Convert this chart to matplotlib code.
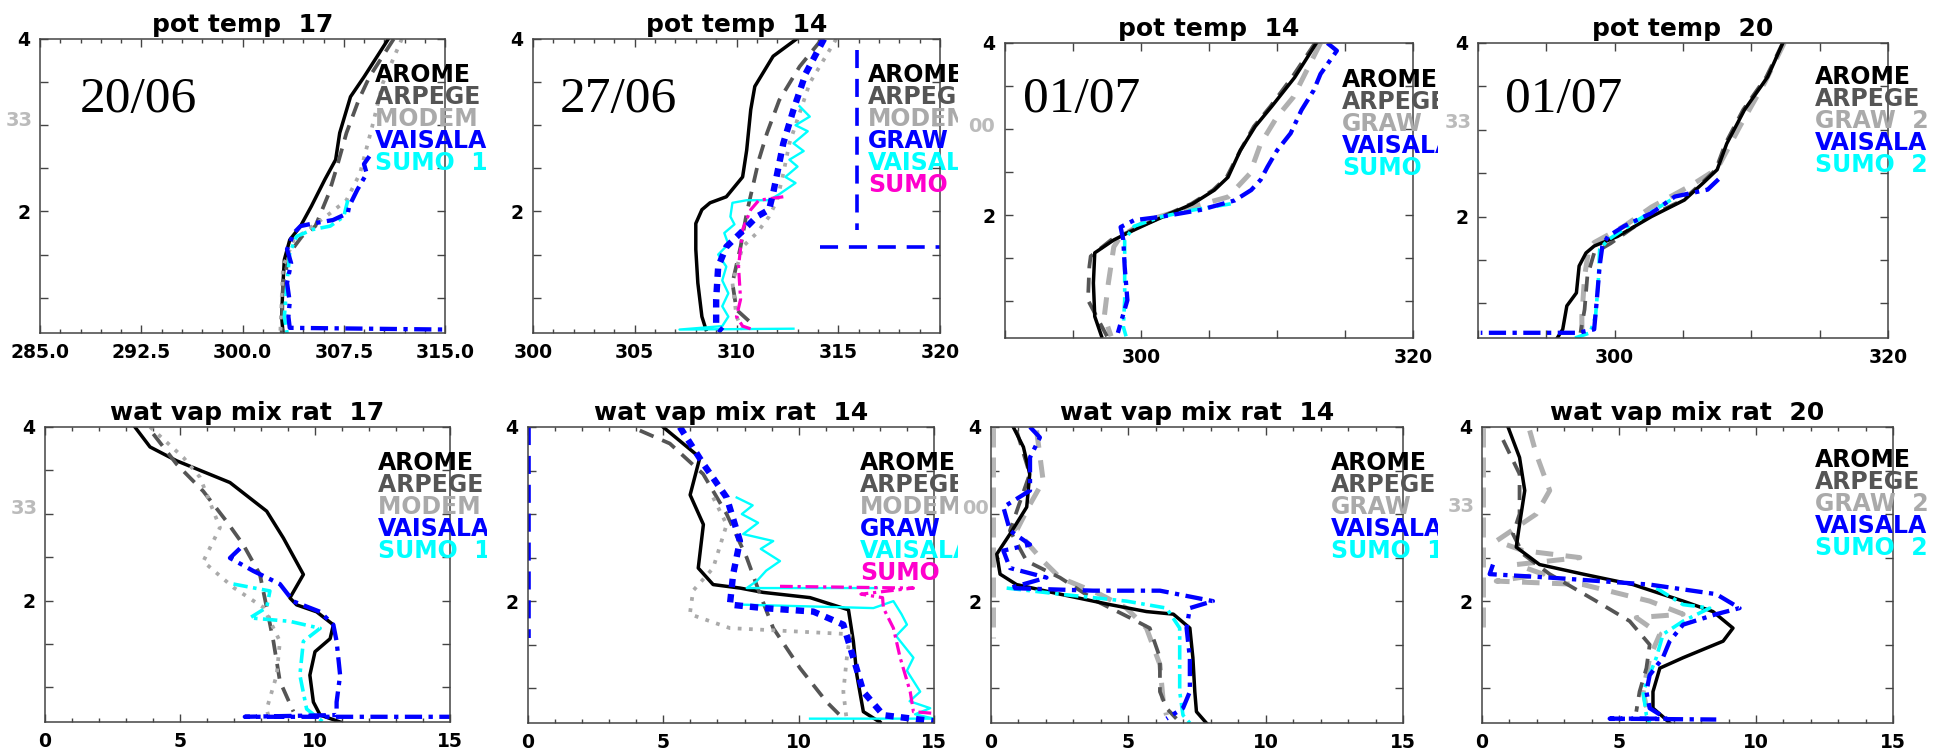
import numpy as np
import matplotlib
matplotlib.use("Agg")
import matplotlib.pyplot as plt
from matplotlib.ticker import FixedLocator, MultipleLocator

W, H = 1945, 751
nan = np.nan

# ---- profiles: (value, altitude km) ----
# row 1 : potential temperature (K)
pt17_arome = [(310.8, 4.0), (309.0, 3.56), (308.0, 3.33), (307.2, 2.91), (306.9, 2.6), (306.1, 2.37),
              (305.1, 2.06), (304.3, 1.83), (303.5, 1.67), (303.1, 1.44), (303.0, 1.17), (302.9, 0.78), (303.0, 0.59)]
pt17_arpege = [(311.2, 4.0), (309.4, 3.56), (308.6, 3.29), (307.7, 2.91), (307.0, 2.52), (306.4, 2.21),
               (305.4, 1.83), (304.4, 1.71), (303.5, 1.52), (303.0, 1.17), (302.9, 0.59)]
pt17_modem = [(311.8, 4.0), (310.4, 3.49), (309.6, 2.98), (308.7, 2.44), (307.7, 2.13), (306.5, 1.98),
              (305.2, 1.83), (303.8, 1.67), (303.0, 1.36), (302.8, 0.59)]
pt17_vaisala = [(309.4, 2.64), (309.0, 2.55), (309.2, 2.44), (308.5, 2.25), (307.9, 2.06), (307.8, 1.98),
                (306.7, 1.90), (305.2, 1.86), (304.3, 1.83), (303.8, 1.75), (303.3, 1.56), (303.6, 1.4),
                (303.3, 1.17), (303.5, 0.95), (303.4, 0.78), (303.5, 0.65), (315.0, 0.63)]
pt17_sumo = [(307.8, 2.13), (307.5, 1.94), (306.5, 1.83), (305.2, 1.79), (304.0, 1.71), (303.5, 1.52),
             (303.3, 1.17), (303.1, 0.78), (303.3, 0.59)]

pt14a_arome = [(312.95, 4.0), (311.8, 3.8), (310.9, 3.45), (310.7, 3.18), (310.5, 2.71), (310.3, 2.4),
               (309.5, 2.17), (308.7, 2.10), (308.3, 2.02), (308.0, 1.86), (308.0, 1.56), (308.1, 1.17),
               (308.3, 0.78), (308.5, 0.63)]
pt14a_arpege = [(314.2, 4.0), (313.1, 3.68), (312.1, 3.29), (311.5, 2.91), (311.1, 2.6), (310.8, 2.29),
                (310.5, 1.98), (310.2, 1.59), (309.8, 1.17), (310.0, 0.86), (310.7, 0.71), (310.8, 0.63)]
pt14a_modem = [(314.9, 4.0), (313.6, 3.49), (313.1, 3.14), (312.6, 2.79), (312.3, 2.44), (312.0, 2.13),
               (311.6, 1.94), (311.0, 1.75), (310.3, 1.59), (309.8, 1.17), (310.0, 0.78), (310.3, 0.63)]
pt14a_graw = [(314.3, 4.0), (313.4, 3.6), (312.8, 3.18), (312.3, 2.79), (312.0, 2.44), (311.8, 2.21),
              (311.6, 2.02), (311.0, 1.94), (310.2, 1.75), (309.5, 1.59), (309.1, 1.36), (309.0, 0.98),
              (309.0, 0.67), (309.3, 0.61)]
pt14a_graw_extra = [(315.9, 3.87), (315.9, 1.79), (nan, nan), (314.1, 1.59), (320.0, 1.59)]
pt14a_vaisala = [(313.1, 3.22), (313.6, 3.1), (312.9, 3.0), (313.5, 2.93), (312.8, 2.79), (313.3, 2.7),
                 (312.6, 2.6), (313.0, 2.52), (312.4, 2.4), (312.9, 2.33), (312.1, 2.2), (311.6, 2.13),
                 (310.5, 2.13), (309.8, 2.10), (309.7, 1.94), (309.9, 1.85), (309.4, 1.75), (309.6, 1.62),
                 (309.1, 1.5), (309.5, 1.36), (309.3, 1.2), (309.6, 1.05), (309.3, 0.9), (309.6, 0.78),
                 (309.3, 0.67), (307.2, 0.63), (312.8, 0.64)]
pt14a_sumo = [(312.3, 2.17), (311.1, 2.13), (310.7, 2.02), (310.3, 1.79), (310.1, 1.36), (310.2, 0.98),
              (310.0, 0.78), (310.3, 0.67), (310.8, 0.63)]

pt14b_arome = [(312.9, 4.0), (311.3, 3.6), (309.6, 3.26), (308.4, 3.03), (307.3, 2.75), (306.4, 2.44),
               (305.4, 2.29), (303.8, 2.13), (302.2, 2.02), (300.5, 1.9), (299.0, 1.79), (298.0, 1.71),
               (296.6, 1.56), (296.5, 1.21), (296.6, 0.82), (297.1, 0.59)]
pt14b_arpege = [(312.8, 4.0), (311.1, 3.6), (309.5, 3.26), (308.3, 3.03), (307.3, 2.75), (306.3, 2.44),
                (305.3, 2.29), (303.7, 2.13), (302.1, 2.02), (300.4, 1.9), (298.9, 1.79), (297.8, 1.71),
                (296.3, 1.52), (296.2, 1.4), (296.1, 1.01), (297.0, 0.74), (297.5, 0.59)]
pt14b_graw = [(313.2, 4.0), (311.2, 3.37), (310.0, 3.14), (308.8, 2.83), (308.0, 2.48), (306.4, 2.21),
              (303.9, 2.1), (300.5, 1.94), (298.5, 1.75), (298.0, 1.63), (297.6, 1.21), (297.3, 0.82),
              (297.8, 0.59)]
pt14b_vaisala = [(313.7, 4.0), (314.4, 3.91), (313.2, 3.64), (312.7, 3.45), (311.8, 3.22), (311.0, 2.95),
                 (310.0, 2.75), (309.3, 2.56), (308.8, 2.41), (308.1, 2.29), (306.9, 2.17), (304.4, 2.06),
                 (301.5, 1.98), (299.5, 1.94), (298.5, 1.86), (298.7, 1.71), (298.8, 1.40), (299.0, 1.01),
                 (298.5, 0.74), (298.3, 0.63)]
pt14b_sumo = [(306.6, 2.13), (303.9, 2.06), (301.5, 1.98), (299.5, 1.87), (298.8, 1.71), (298.8, 1.40),
              (298.8, 1.01), (298.7, 0.70), (298.9, 0.59)]

pt20_arome = [(312.3, 4.0), (311.2, 3.61), (309.5, 3.23), (308.2, 2.84), (307.5, 2.54), (306.5, 2.39),
              (305.1, 2.19), (302.7, 2.0), (300.2, 1.77), (298.5, 1.66), (297.9, 1.58), (297.4, 1.43),
              (297.2, 1.12), (296.5, 0.97), (296.2, 0.70), (295.8, 0.6)]
pt20_arpege = [(312.3, 4.0), (311.1, 3.61), (309.4, 3.23), (308.1, 2.84), (307.4, 2.54), (306.4, 2.39),
               (305.0, 2.19), (302.5, 2.0), (299.7, 1.69), (298.5, 1.58), (298.0, 1.31), (297.8, 0.93),
               (297.5, 0.66)]
pt20_graw = [(312.4, 4.0), (311.0, 3.55), (309.2, 3.05), (307.5, 2.55), (305.6, 2.36), (302.7, 2.11),
             (300.7, 1.89), (298.5, 1.7), (298.1, 1.62), (297.8, 1.31), (297.6, 0.85), (297.6, 0.62)]
pt20_vaisala = [(307.6, 2.43), (306.8, 2.31), (304.4, 2.23), (302.7, 2.04), (300.7, 1.89), (299.5, 1.77),
                (299.1, 1.66), (298.9, 1.43), (298.7, 1.05), (298.5, 0.70), (297.3, 0.66), (290.2, 0.66)]
pt20_sumo = [(304.1, 2.19), (301.7, 1.96), (299.5, 1.73), (298.9, 1.62), (298.8, 1.24), (298.6, 0.85),
             (298.2, 0.66), (297.1, 0.6)]

# row 2 : water vapour mixing ratio (g/kg)
wv17_arome = [(3.33, 4.0), (3.89, 3.77), (4.88, 3.61), (6.85, 3.36), (8.21, 3.03), (8.83, 2.72), (9.57, 2.30),
              (9.07, 2.03), (9.32, 1.95), (10.06, 1.87), (10.68, 1.72), (10.56, 1.56), (10.0, 1.41),
              (9.81, 1.14), (9.94, 0.83), (10.19, 0.68), (10.93, 0.60)]
wv17_arpege = [(4.01, 3.92), (4.88, 3.57), (5.86, 3.26), (6.73, 2.91), (7.35, 2.64), (7.96, 2.30),
               (8.21, 1.92), (8.46, 1.53), (8.7, 1.07), (9.2, 0.72)]
wv17_modem = [(3.89, 4.0), (5.12, 3.65), (5.74, 3.42), (6.48, 2.84), (5.86, 2.45), (6.98, 2.15), (8.09, 1.92),
              (8.7, 1.53), (8.58, 1.14), (8.21, 0.75), (8.33, 0.60)]
wv17_vaisala = [(7.22, 2.6), (6.85, 2.49), (7.72, 2.34), (8.7, 2.19), (9.2, 1.99), (10.19, 1.87),
                (10.68, 1.72), (10.8, 1.53), (10.93, 1.14), (10.8, 0.83), (10.8, 0.68), (7.4, 0.66), (15.0, 0.66)]
wv17_sumo = [(6.98, 2.19), (8.33, 2.11), (8.21, 1.92), (7.59, 1.80), (9.07, 1.76), (10.19, 1.68),
             (9.57, 1.53), (9.44, 1.14), (9.69, 0.75), (10.3, 0.60)]

wv14a_arome = [(4.99, 4.0), (6.35, 3.65), (5.99, 3.22), (6.48, 2.88), (6.29, 2.38), (6.84, 2.19), (7.83, 2.15),
               (8.69, 2.10), (10.42, 2.04), (11.84, 1.90), (12.02, 1.54), (12.15, 1.15), (12.39, 0.73),
               (13.0, 0.61)]
wv14a_arpege = [(4.13, 3.96), (5.24, 3.81), (6.47, 3.46), (7.34, 3.0), (8.08, 2.5), (8.57, 2.08),
                (9.06, 1.69), (10.05, 1.23), (11.04, 0.84), (11.65, 0.65)]
wv14a_modem = [(6.84, 3.19), (7.34, 2.88), (6.84, 2.38), (6.1, 2.12), (5.98, 1.85), (7.46, 1.69),
               (11.9, 1.62), (11.78, 1.35), (11.65, 0.96), (11.78, 0.62)]
wv14a_graw = [(5.61, 4.0), (6.47, 3.58), (7.34, 3.19), (7.83, 2.69), (7.58, 2.31), (7.46, 1.96), (8.69, 1.92),
              (10.54, 1.88), (11.65, 1.73), (12.02, 1.35), (12.39, 0.96), (13.13, 0.69), (15.0, 0.62)]
wv14a_graw_extra = [(0.05, 4.0), (0.05, 1.58)]
wv14a_vaisala = [(7.71, 3.19), (8.3, 3.1), (7.9, 3.0), (8.5, 2.9), (7.95, 2.77), (9.06, 2.69), (8.6, 2.6),
                 (9.31, 2.46), (8.8, 2.35), (8.45, 2.23), (8.08, 2.15), (12.89, 2.15), (nan, nan),
                 (7.83, 1.96), (12.76, 1.92), (13.5, 2.0), (13.8, 1.85), (14.0, 1.73), (13.6, 1.6),
                 (14.24, 1.35), (14.0, 1.2), (14.49, 0.96), (14.1, 0.85), (14.86, 0.77), (14.3, 0.7),
                 (15.0, 0.65), (10.42, 0.65)]
wv14a_sumo = [(9.31, 2.17), (14.24, 2.15), (12.3, 2.08), (13.1, 2.04), (13.13, 1.92), (13.5, 1.69),
              (13.75, 1.35), (14.12, 0.96), (14.24, 0.73), (15.0, 0.71)]

wv14b_arome = [(0.81, 4.0), (1.18, 3.77), (1.41, 3.46), (1.3, 3.08), (0.69, 2.77), (0.21, 2.54), (0.33, 2.31),
               (0.93, 2.19), (2.51, 2.08), (4.33, 1.96), (5.66, 1.88), (6.64, 1.85), (7.24, 1.69),
               (7.35, 1.35), (7.42, 0.96), (7.48, 0.73), (7.84, 0.60)]
wv14b_arpege = [(0.93, 3.96), (1.41, 3.46), (0.69, 2.81), (1.3, 2.46), (2.51, 2.27), (3.84, 2.0),
                (5.05, 1.81), (5.78, 1.69), (6.15, 1.35), (6.15, 0.96), (6.39, 0.77), (6.75, 0.65)]
wv14b_graw = [(1.66, 3.96), (1.9, 3.38), (1.4, 3.1), (0.93, 2.81), (1.9, 2.46), (2.51, 2.27), (3.96, 2.08),
              (4.93, 1.92), (5.66, 1.69), (6.15, 1.27), (6.27, 0.85), (6.39, 0.69)]
wv14b_graw_extra = [(0.08, 4.0), (0.08, 1.58)]
wv14b_vaisala = [(1.42, 4.0), (1.78, 3.88), (1.42, 3.65), (1.42, 3.27), (0.45, 3.08), (0.69, 2.81),
                 (1.42, 2.65), (0.45, 2.58), (0.69, 2.38), (2.02, 2.27), (0.69, 2.15), (3.72, 2.12),
                 (6.15, 2.12), (8.08, 2.0), (7.24, 1.92), (7.12, 1.69), (7.24, 1.35), (7.24, 0.96),
                 (6.99, 0.77), (6.39, 0.65)]
wv14b_sumo = [(0.57, 2.15), (2.51, 2.08), (4.93, 2.0), (6.39, 1.92), (6.87, 1.69), (6.87, 1.35),
              (6.87, 0.96), (6.99, 0.69), (7.24, 0.60)]

wv20_arome = [(0.95, 4.0), (1.37, 3.65), (1.56, 3.27), (1.37, 2.88), (1.25, 2.62), (2.1, 2.42), (3.69, 2.31),
              (5.51, 2.19), (7.34, 2.0), (8.43, 1.88), (9.16, 1.69), (8.8, 1.54), (7.34, 1.35), (6.49, 1.23),
              (6.24, 0.96), (6.24, 0.77), (6.61, 0.67), (6.85, 0.6)]
wv20_arpege = [(0.77, 3.85), (1.37, 3.46), (1.37, 3.0), (1.13, 2.77), (1.5, 2.54), (2.47, 2.31), (4.17, 2.0),
               (5.39, 1.77), (6.12, 1.5), (6.0, 1.23), (5.75, 0.96), (5.63, 0.73)]
wv20_graw = [(1.74, 3.96), (1.98, 3.69), (2.47, 3.27), (1.98, 3.0), (0.52, 2.69), (1.5, 2.58), (3.57, 2.5),
             (1.25, 2.42), (2.23, 2.31), (0.52, 2.23), (3.69, 2.19), (6.12, 2.0), (7.34, 1.85),
             (5.63, 1.81), (6.49, 1.62), (6.12, 1.35), (5.88, 0.96), (6.12, 0.62)]
wv20_graw_extra = [(0.05, 4.0), (0.05, 1.6)]
wv20_vaisala = [(0.4, 2.42), (0.28, 2.31), (2.47, 2.27), (6.12, 2.19), (8.55, 2.08), (9.4, 1.92),
                (8.55, 1.85), (7.34, 1.73), (6.85, 1.54), (6.6, 1.35), (6.12, 1.15), (6.0, 0.96),
                (6.12, 0.77), (6.73, 0.65), (4.66, 0.65), (8.55, 0.64)]
wv20_sumo = [(6.36, 2.15), (7.34, 1.96), (8.31, 1.92), (7.34, 1.77), (6.61, 1.62), (6.36, 1.35),
             (5.88, 0.96), (6.0, 0.69), (6.12, 0.6)]

titles = ["pot temp  17", "pot temp  14", "pot temp  14", "pot temp  20",
          "wat vap mix rat  17", "wat vap mix rat  14", "wat vap mix rat  14", "wat vap mix rat  20"]
dates = ["20/06", "27/06", "01/07", "01/07"]
legend_a = ["AROME", "ARPEGE  3", "MODEM  3", "VAISALA", "SUMO  17"]
legend_b = ["AROME", "ARPEGE", "MODEM", "GRAW", "VAISALA", "SUMO"]
legend_c14 = ["AROME", "ARPEGE", "GRAW", "VAISALA", "SUMO"]
legend_c14b = ["AROME", "ARPEGE", "GRAW", "VAISALA", "SUMO  14"]
legend_c20 = ["AROME", "ARPEGE", "GRAW  2", "VAISALA", "SUMO  2"]

# ---- styles ----
BLACK, DGREY, LGREY = "black", "#555555", "#aaaaaa"
BLUE, CYAN, MAGENTA = "#0000ff", "#00ffff", "#ff00cc"
DASHDOT = (0, (4, 1.5, 1, 1.5))
STYLE = {
    "arome": dict(color=BLACK, ls="-", lw=2.5),
    "arpege": dict(color=DGREY, ls=(0, (4, 2.5)), lw=2.7),
    "modem": dict(color=LGREY, ls=(0, (1, 2)), lw=2.7),
    "graw_grey": dict(color="#b0b0b0", ls=(0, (3.5, 2.5)), lw=3.6),
    "vaisala": dict(color=BLUE, ls=DASHDOT, lw=3.1),
    "sumo": dict(color=CYAN, ls=DASHDOT, lw=2.6),
    "graw_blue": dict(color=BLUE, ls=(0, (1.3, 1.1)), lw=4.6),
    "vaisala_cyan": dict(color=CYAN, ls="-", lw=1.7),
    "sumo_mag": dict(color=MAGENTA, ls=DASHDOT, lw=2.3),
    "extra_blue": dict(color=BLUE, ls=(0, (5, 3)), lw=2.6),
    "extra_grey": dict(color="#b8b8b8", ls=(0, (4, 2)), lw=3.6),
}
LEG_COL_A = [BLACK, DGREY, LGREY, BLUE, CYAN]
LEG_COL_B = [BLACK, DGREY, LGREY, BLUE, CYAN, MAGENTA]

PT_A = dict(xlim=(285, 315), ticks=[285, 292.5, 300, 307.5, 315],
            labels=["285.0", "292.5", "300.0", "307.5", "315.0"], minor=1.5)
PT_B = dict(xlim=(300, 320), ticks=[300, 305, 310, 315, 320],
            labels=["300", "305", "310", "315", "320"], minor=1)
PT_C = dict(xlim=(290, 320), ticks=[290, 295, 300, 305, 310, 315, 320],
            labels=["", "", "300", "", "", "", "320"], minor=None)
WV = dict(xlim=(0, 15), ticks=[0, 5, 10, 15], labels=["0", "5", "10", "15"], minor=1)

# panel layout in pixels: axes box (l, t, r, b), tile (x0, x1, y0, y1), legend origin, left remnant
panels = [
    dict(box=(40, 39, 445, 333), tile=(0, 488, 0, 375), ax=PT_A, ylo=0.59,
         series=[(pt17_arome, "arome"), (pt17_arpege, "arpege"), (pt17_modem, "modem"),
                 (pt17_sumo, "sumo"), (pt17_vaisala, "vaisala")],
         leg=(legend_a, LEG_COL_A, 375, 75), date=(80, 100), rem=("33", 33, 121)),
    dict(box=(533, 39, 940, 333), tile=(488, 958, 0, 375), ax=PT_B, ylo=0.59,
         series=[(pt14a_arome, "arome"), (pt14a_arpege, "arpege"), (pt14a_modem, "modem"),
                 (pt14a_vaisala, "vaisala_cyan"), (pt14a_sumo, "sumo_mag"), (pt14a_graw, "graw_blue"),
                 (pt14a_graw_extra, "extra_blue")],
         leg=(legend_b, LEG_COL_B, 868, 75), date=(560, 100), rem=None),
    dict(box=(1005, 43, 1413, 338), tile=(958, 1438, 0, 375), ax=PT_C, ylo=0.57,
         series=[(pt14b_graw, "graw_grey"), (pt14b_arpege, "arpege"), (pt14b_arome, "arome"),
                 (pt14b_sumo, "sumo"), (pt14b_vaisala, "vaisala")],
         leg=(legend_c14, LEG_COL_A, 1342, 80), date=(1023, 100), rem=("00", 995, 127)),
    dict(box=(1478, 43, 1888, 338), tile=(1448, 1935, 0, 375), ax=PT_C, ylo=0.6,
         series=[(pt20_graw, "graw_grey"), (pt20_arpege, "arpege"), (pt20_arome, "arome"),
                 (pt20_sumo, "sumo"), (pt20_vaisala, "vaisala")],
         leg=(legend_c20, LEG_COL_A, 1815, 77), date=(1505, 100), rem=("33", 1472, 123)),
    dict(box=(45, 427, 450, 722), tile=(0, 487, 375, 751), ax=WV, ylo=0.6,
         series=[(wv17_arome, "arome"), (wv17_arpege, "arpege"), (wv17_modem, "modem"),
                 (wv17_sumo, "sumo"), (wv17_vaisala, "vaisala")],
         leg=(legend_a, LEG_COL_A, 378, 463), date=None, rem=("33", 38, 508)),
    dict(box=(528, 427, 934, 723), tile=(487, 958, 375, 751), ax=WV, ylo=0.6,
         series=[(wv14a_arome, "arome"), (wv14a_arpege, "arpege"), (wv14a_modem, "modem"),
                 (wv14a_vaisala, "vaisala_cyan"), (wv14a_sumo, "sumo_mag"), (wv14a_graw, "graw_blue"),
                 (wv14a_graw_extra, "extra_blue")],
         leg=(legend_b, LEG_COL_B, 860, 463), date=None, rem=None),
    dict(box=(991, 427, 1403, 723), tile=(958, 1438, 375, 751), ax=WV, ylo=0.6,
         series=[(wv14b_graw_extra, "extra_grey"), (wv14b_graw, "graw_grey"), (wv14b_arpege, "arpege"),
                 (wv14b_arome, "arome"), (wv14b_sumo, "sumo"), (wv14b_vaisala, "vaisala")],
         leg=(legend_c14b, LEG_COL_A, 1331, 463), date=None, rem=("00", 989, 508)),
    dict(box=(1482, 427, 1893, 723), tile=(1448, 1935, 375, 751), ax=WV, ylo=0.6,
         series=[(wv20_graw_extra, "extra_grey"), (wv20_graw, "graw_grey"), (wv20_arpege, "arpege"),
                 (wv20_arome, "arome"), (wv20_sumo, "sumo"), (wv20_vaisala, "vaisala")],
         leg=(legend_c20, LEG_COL_A, 1815, 460), date=None, rem=("33", 1475, 507)),
]

SANS = "DejaVu Sans"
fig = plt.figure(figsize=(W / 100, H / 100), dpi=100)
fig.patch.set_facecolor("white")


def fx(x):
    return x / W


def fy(y):
    return 1 - y / H


for i, p in enumerate(panels):
    l, t, r, b = p["box"]
    ax = fig.add_axes([fx(l), fy(b), (r - l) / W, (b - t) / H])
    for data, key in p["series"]:
        arr = np.array(data, dtype=float)
        ax.plot(arr[:, 0], arr[:, 1], solid_joinstyle="round", dash_capstyle="butt", **STYLE[key])

    spec = p["ax"]
    ax.set_xlim(*spec["xlim"])
    ax.set_ylim(p["ylo"], 4.0)
    ax.xaxis.set_major_locator(FixedLocator(spec["ticks"]))
    ax.set_xticklabels(spec["labels"])
    if spec["minor"]:
        ax.xaxis.set_minor_locator(MultipleLocator(spec["minor"]))
    ax.yaxis.set_major_locator(FixedLocator([1.0, 1.5, 2.0, 2.5, 3.0, 3.5, 4.0]))
    ax.set_yticklabels(["", "", "2", "", "", "", "4"])
    ax.tick_params(which="both", direction="in", top=True, right=True, color="#444444", width=1.0)
    ax.tick_params(which="major", length=6, pad=7)
    ax.tick_params(which="minor", length=3)
    for lab in ax.get_xticklabels() + ax.get_yticklabels():
        lab.set_fontfamily(SANS)
        lab.set_fontweight("bold")
        lab.set_fontsize(13.5)
    for sp in ax.spines.values():
        sp.set_color("#444444")
        sp.set_linewidth(1.1)
    ax.set_title(titles[i], fontsize=18, fontweight="bold", family=SANS, pad=5)

    # tile overlay: legend words clipped to this panel's image
    x0, x1, y0, y1 = p["tile"]
    tile = fig.add_axes([fx(x0), fy(y1), (x1 - x0) / W, (y1 - y0) / H])
    tile.axis("off")
    tile.set_zorder(5)
    words, cols, lx, ly = p["leg"]
    for k, (w, c) in enumerate(zip(words, cols)):
        tile.text(fx(lx), fy(ly + 22 * k), w, transform=fig.transFigure, color=c, fontsize=17,
                  fontweight="bold", family=SANS, ha="left", va="center", clip_on=True)
    if p["date"]:
        dx, dy = p["date"]
        fig.text(fx(dx), fy(dy), dates[i], family="Liberation Serif",
                 fontsize=37, ha="left", va="center", zorder=6)
    if p["rem"]:
        s, rx, ry = p["rem"]
        fig.text(fx(rx), fy(ry), s, color="#bbbbbb", fontsize=14,
                 fontweight="bold", family=SANS, ha="right", va="center")

fig.savefig("out.png", dpi=100, facecolor="white")
